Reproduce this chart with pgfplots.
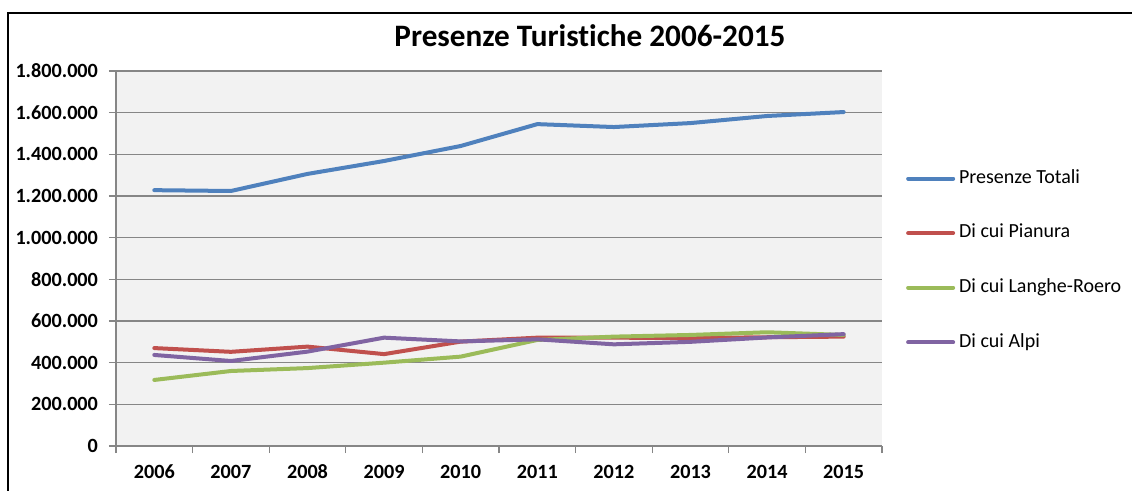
\documentclass[border=0pt]{standalone}
\usepackage{pgfplots}
\pgfplotsset{compat=1.18}
\usepackage{fontspec}
\setmainfont{Carlito}[Ligatures=NoCommon]
\definecolor{cblue}{HTML}{4F81BD}
\definecolor{cred}{HTML}{C0504D}
\definecolor{cgreen}{HTML}{9BBB59}
\definecolor{cpurple}{HTML}{8064A2}
\definecolor{cbg}{HTML}{F2F2F2}
\definecolor{cgrid}{HTML}{868686}
\begin{document}
\begin{tikzpicture}
\useasboundingbox (0,0) rectangle (566bp,245.5bp);
\draw[line width=1bp] (4bp,-10bp) -- (4bp,239bp) -- (580bp,239bp);
\node[font=\bfseries\fontsize{15.6bp}{18bp}\selectfont] at (295bp,227.5bp) {Presenze Turistiche 2006-2015};
\begin{axis}[
  at={(58bp,22.5bp)}, anchor=south west,
  scale only axis, width=383bp, height=187.5bp,
  xmin=-0.5, xmax=9.5, ymin=0, ymax=1800000,
  axis lines*=left,
  axis line style={draw=cgrid, line width=0.6bp},
  axis background/.style={fill=cbg},
  xtick={0,...,9},
  xticklabels={2006,2007,2008,2009,2010,2011,2012,2013,2014,2015},
  minor xtick={-0.5,0.5,...,9.5},
  ytick={0,200000,...,1800000},
  scaled y ticks=false,
  /pgf/number format/.cd, fixed, precision=0, 1000 sep={.}, assume math mode=true,
  /pgfplots/.cd,
  tick align=outside,
  x tick style={draw=none},
  minor x tick style={draw=cgrid, line width=0.6bp},
  y tick style={draw=cgrid, line width=0.6bp},
  major tick length=3.5bp, minor tick length=3.5bp,
  ymajorgrids,
  grid style={draw=cgrid, line width=0.6bp},
  ticklabel style={font=\bfseries\fontsize{10.1bp}{12bp}\selectfont},
  yticklabel style={xshift=-2bp},
  xticklabel style={anchor=north, text height=6.6bp, text depth=0bp, yshift=-2.6bp},
  legend style={at={(1.031,0.495)}, anchor=west, draw=none, fill=none,
    inner sep=0pt, row sep=14.1bp,
    font=\fontsize{10bp}{12bp}\selectfont,
    nodes={text height=7bp, text depth=2.2bp}},
  legend cell align=left,
  legend image code/.code={\draw[#1] (0bp,0bp) -- (22.5bp,0bp);},
  every axis plot/.append style={line width=2bp, line join=round, line cap=round},
]
\addplot[cblue] coordinates {(0,1228000) (1,1224000) (2,1306000) (3,1368000) (4,1440000) (5,1545000) (6,1531000) (7,1550000) (8,1584000) (9,1603000)};
\addlegendentry{Presenze Totali}
\addplot[cred] coordinates {(0,470000) (1,452000) (2,477000) (3,441000) (4,501000) (5,520000) (6,520000) (7,518000) (8,522000) (9,525000)};
\addlegendentry{Di cui Pianura}
\addplot[cgreen] coordinates {(0,317000) (1,360000) (2,374000) (3,400000) (4,429000) (5,509000) (6,525000) (7,533000) (8,546000) (9,533000)};
\addlegendentry{Di cui Langhe-Roero}
\addplot[cpurple] coordinates {(0,437000) (1,408000) (2,453000) (3,520000) (4,502000) (5,512000) (6,488000) (7,500000) (8,521000) (9,537000)};
\addlegendentry{Di cui Alpi}
\end{axis}
\end{tikzpicture}
\end{document}
